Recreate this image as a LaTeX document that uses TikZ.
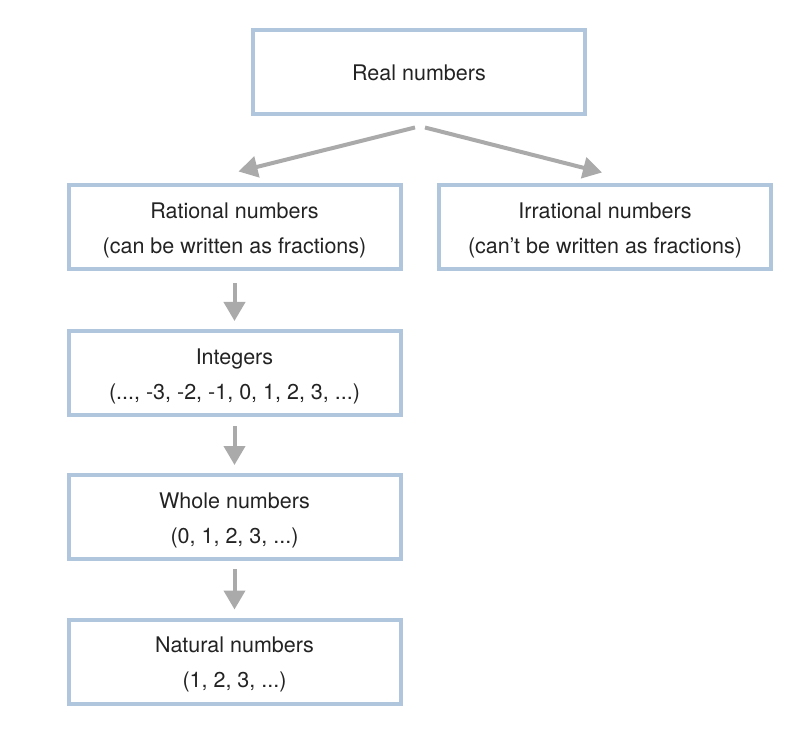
\documentclass[tikz,border=0pt]{standalone}
\usepackage{fontspec}
\setmainfont{TeX Gyre Heros}
\usetikzlibrary{arrows.meta}
\definecolor{boxblue}{RGB}{176,198,220}
\definecolor{arrowgray}{RGB}{170,170,170}
\definecolor{textdark}{RGB}{35,35,35}
\tikzset{
	numbox/.style={draw=boxblue, line width=4pt, minimum width=332pt, minimum height=84pt,
		align=center, text=textdark, font=\fontsize{21.5}{35}\selectfont},
	twoline/.style={numbox, text height=52pt, text depth=0pt},
	subset/.style={draw=arrowgray, line width=4pt, -{Triangle[length=19pt,width=21pt]}}
}
\begin{document}
\begin{tikzpicture}[x=1pt,y=-1pt]
	\useasboundingbox (0,0) rectangle (806,735);
	\node[numbox] (real) at (419,72.5) {Real numbers};
	\node[twoline] (rat) at (234.5,227.5) {Rational numbers\\(can be written as fractions)};
	\node[twoline] (irr) at (605,227.5) {Irrational numbers\\(can’t be written as fractions)};
	\node[twoline] (int) at (234.5,373) {Integers\\(..., -3, -2, -1, 0, 1, 2, 3, ...)};
	\node[twoline] (whole) at (234.5,517) {Whole numbers\\(0, 1, 2, 3, ...)};
	\node[twoline] (nat) at (234.5,661.5) {Natural numbers\\(1, 2, 3, ...)};
	\draw[subset] ([xshift=-4pt,yshift=-11pt]real.south) -- ([xshift=4pt,yshift=12pt]rat.north);
	\draw[subset] ([xshift=6pt,yshift=-11pt]real.south) -- ([xshift=-3pt,yshift=11pt]irr.north);
	\draw[subset] ([yshift=-12pt]rat.south) -- ([yshift=8pt]int.north);
	\draw[subset] ([yshift=-9pt]int.south) -- ([yshift=8pt]whole.north);
	\draw[subset] ([yshift=-8pt]whole.south) -- ([yshift=8pt]nat.north);
\end{tikzpicture}
\end{document}
